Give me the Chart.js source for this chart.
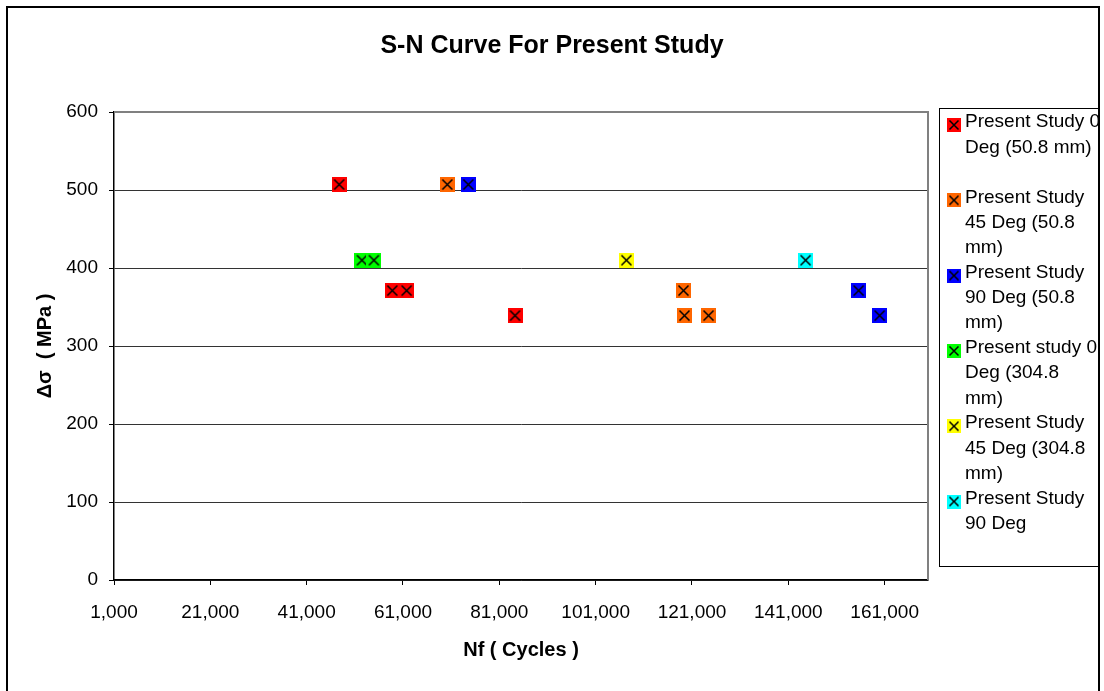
<!DOCTYPE html>
<html>
<head>
<meta charset="utf-8">
<script src="https://cdn.jsdelivr.net/npm/chart.js@4.4.0/dist/chart.umd.min.js"></script>
<style>
  body { margin: 0; background: #fff; }
  canvas { display: block; }
</style>
</head>
<body>
<canvas id="sn" width="1104" height="691"></canvas>
<script>
// cycles to failure (x) and stress range in MPa (y)
var deg0SmallX = [47750, 58770, 61760, 84260];
var deg0SmallY = [507, 371, 371, 339];
var deg45SmallX = [70200, 119230, 119440, 124430];
var deg45SmallY = [507, 371, 339, 339];
var deg90SmallX = [74560, 155600, 159960];
var deg90SmallY = [507, 371, 339];
var deg0BigX = [52470, 54960];
var deg0BigY = [410, 410];
var deg45BigX = [107390];
var deg45BigY = [410];
var deg90BigX = [144580];
var deg90BigY = [410];

var seriesNames = [
  'Present Study 0 Deg (50.8 mm)',
  'Present Study 45 Deg (50.8 mm)',
  'Present Study 90 Deg (50.8 mm)',
  'Present study 0 Deg (304.8 mm)',
  'Present Study 45 Deg (304.8 mm)',
  'Present Study 90 Deg'
];
// how the legend wraps each name
var legendLines = [
  ['Present Study 0', 'Deg (50.8 mm)'],
  ['Present Study', '45 Deg (50.8', 'mm)'],
  ['Present Study', '90 Deg (50.8', 'mm)'],
  ['Present study 0', 'Deg (304.8', 'mm)'],
  ['Present Study', '45 Deg (304.8', 'mm)'],
  ['Present Study', '90 Deg']
];
var seriesColors = ['#FF0000', '#FF6600', '#0000FF', '#00FF00', '#FFFF00', '#00FFFF'];

var xTicks = [1000, 21000, 41000, 61000, 81000, 101000, 121000, 141000, 161000];
var yTicks = [0, 100, 200, 300, 400, 500, 600];

var xs = [deg0SmallX, deg45SmallX, deg90SmallX, deg0BigX, deg45BigX, deg90BigX];
var ys = [deg0SmallY, deg45SmallY, deg90SmallY, deg0BigY, deg45BigY, deg90BigY];

var FONT = '"Liberation Sans", Arial, sans-serif';

// square marker with a black cross, like the Excel one
function makeMarker(color, size) {
  var c = document.createElement('canvas');
  c.width = size;
  c.height = size;
  var g = c.getContext('2d');
  g.fillStyle = color;
  g.fillRect(0, 0, size, size);
  g.strokeStyle = '#000';
  g.lineWidth = 1.5;
  var a = 2.5, b = size - 2.5;
  g.beginPath();
  g.moveTo(a, a); g.lineTo(b, b);
  g.moveTo(b, a); g.lineTo(a, b);
  g.stroke();
  return c;
}

var datasets = seriesNames.map(function (name, i) {
  return {
    label: name,
    xAxisID: 'x',
    yAxisID: 'y',
    data: xs[i].map(function (x, k) { return { x: x, y: ys[i][k] }; }),
    pointStyle: makeMarker(seriesColors[i], 15),
    backgroundColor: seriesColors[i],
    borderColor: '#000',
    showLine: false
  };
});

var framePlugin = {
  id: 'frame',
  beforeDraw: function (chart) {
    var c = chart.ctx;
    c.save();
    c.fillStyle = '#fff';
    c.fillRect(0, 0, chart.width, chart.height);
    c.restore();
  },
  beforeDatasetsDraw: function (chart) {
    var a = chart.chartArea;
    var c = chart.ctx;
    c.save();
    c.strokeStyle = '#808080';
    c.lineWidth = 2;
    c.beginPath();
    c.moveTo(a.left, a.top);
    c.lineTo(a.right, a.top);
    c.lineTo(a.right, a.bottom);
    c.stroke();
    c.restore();
  },
  afterDraw: function (chart) {
    var c = chart.ctx;
    c.save();
    c.strokeStyle = '#000';
    c.lineWidth = 1;
    c.strokeRect(939.5, 108.5, 160, 458);
    c.font = '19px ' + FONT;
    c.fillStyle = '#000';
    c.textBaseline = 'middle';
    c.textAlign = 'left';
    legendLines.forEach(function (lines, i) {
      var top = 122 + i * 75.3;
      var m = makeMarker(seriesColors[i], 14);
      c.drawImage(m, 947, top - 4);
      lines.forEach(function (t, k) {
        c.fillText(t, 965, top + k * 25.3);
      });
    });
    // outer chart frame
    c.lineWidth = 2;
    c.strokeRect(7, 7, 1092, 700);
    c.restore();
  }
};

new Chart(document.getElementById('sn'), {
  type: 'scatter',
  data: { datasets: datasets },
  plugins: [framePlugin],
  options: {
    responsive: false,
    animation: false,
    layout: { padding: 0 },
    plugins: {
      legend: { display: false },
      tooltip: { enabled: false },
      title: {
        display: true,
        text: 'S-N Curve For Present Study',
        color: '#000',
        font: { family: FONT, size: 25, weight: 'bold' },
        padding: { top: 31, bottom: 51 }
      }
    },
    scales: {
      x: {
        type: 'linear',
        min: 1000,
        max: 170000,
        afterBuildTicks: function (s) {
          s.ticks = xTicks.map(function (v) { return { value: v }; });
        },
        afterFit: function (s) { s.height = 111; },
        grid: { drawOnChartArea: false, drawTicks: true, tickLength: 5, color: '#000' },
        border: { color: '#000', width: 1.5 },
        ticks: {
          color: '#000',
          padding: 16,
          maxRotation: 0,
          font: { family: FONT, size: 19 },
          callback: function (v) { return Number(v).toLocaleString('en-US'); }
        },
        title: {
          display: true,
          text: 'Nf ( Cycles )',
          color: '#000',
          font: { family: FONT, size: 20, weight: 'bold' },
          padding: { top: 0, bottom: 29 }
        }
      },
      y: {
        min: 0,
        max: 600,
        afterBuildTicks: function (s) {
          s.ticks = yTicks.map(function (v) { return { value: v }; });
        },
        afterFit: function (s) { s.width = 114; },
        grid: { color: '#333', lineWidth: 1, tickLength: 5, tickColor: '#000' },
        border: { color: '#000', width: 1.5 },
        ticks: {
          color: '#000',
          padding: 11,
          font: { family: FONT, size: 19 }
        },
        title: {
          display: true,
          text: 'Δσ  ( MPa )',
          color: '#000',
          font: { family: FONT, size: 20, weight: 'bold' },
          padding: { top: 33, bottom: 0 }
        }
      },
      // empty right-hand box that keeps room for the legend
      legendSpace: {
        type: 'linear',
        position: 'right',
        display: true,
        grid: { display: false, drawTicks: false },
        border: { display: false },
        ticks: { display: false },
        afterFit: function (s) { s.width = 176; }
      }
    }
  }
});
</script>
</body>
</html>
